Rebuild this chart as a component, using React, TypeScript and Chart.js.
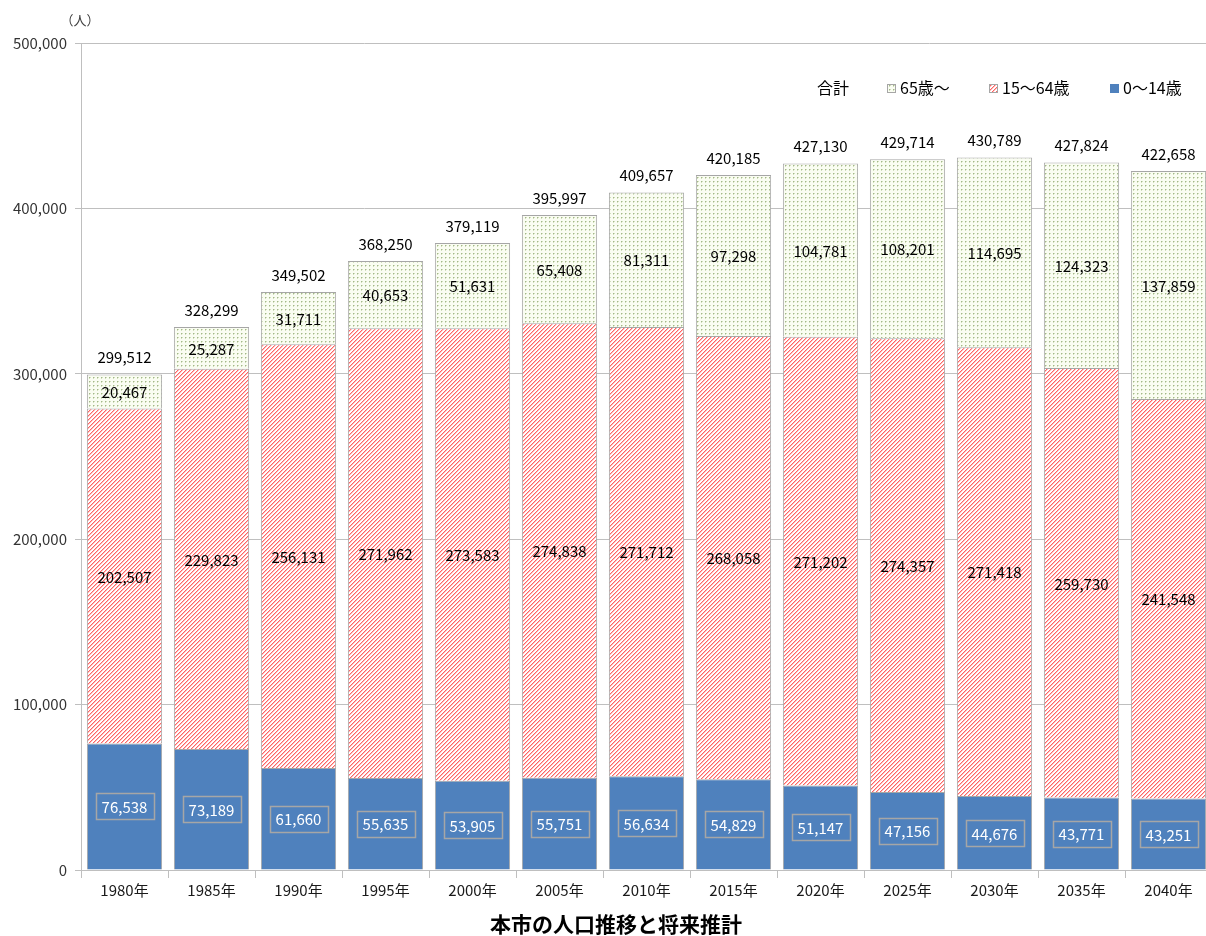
import React, { useEffect, useRef } from "react";
import { Chart, registerables } from "chart.js";

Chart.register(...registerables);

const categories = ["1980年", "1985年", "1990年", "1995年", "2000年", "2005年", "2010年", "2015年", "2020年", "2025年", "2030年", "2035年", "2040年"];
const age0to14 = [76538, 73189, 61660, 55635, 53905, 55751, 56634, 54829, 51147, 47156, 44676, 43771, 43251];
const age15to64 = [202507, 229823, 256131, 271962, 273583, 274838, 271712, 268058, 271202, 274357, 271418, 259730, 241548];
const age65plus = [20467, 25287, 31711, 40653, 51631, 65408, 81311, 97298, 104781, 108201, 114695, 124323, 137859];
const totals = [299512, 328299, 349502, 368250, 379119, 395997, 409657, 420185, 427130, 429714, 430789, 427824, 422658];
const yTicks = [0, 100000, 200000, 300000, 400000, 500000];
const seriesNames = ["0〜14歳", "15〜64歳", "65歳〜"];
const totalName = "合計";
const unitLabel = "（人）";
const chartTitle = "本市の人口推移と将来推計";

const FONT = "'Noto Sans CJK JP', 'Noto Sans', sans-serif";
const fmt = (v: number) => v.toLocaleString("en-US");

function makeStripe(): CanvasPattern | string {
  const c = document.createElement("canvas");
  c.width = 4;
  c.height = 4;
  const g = c.getContext("2d");
  if (!g) return "#f8b0b0";
  g.fillStyle = "#ffffff";
  g.fillRect(0, 0, 4, 4);
  for (let x = 0; x < 4; x++) {
    const y = (3 - x + 4) % 4;
    g.fillStyle = "#ff6464";
    g.fillRect(x, y, 1, 1);
    g.fillStyle = "#ffbcbc";
    g.fillRect(x, (y + 1) % 4, 1, 1);
  }
  return g.createPattern(c, "repeat") || "#f8b0b0";
}

function makeDots(): CanvasPattern | string {
  const c = document.createElement("canvas");
  c.width = 4;
  c.height = 4;
  const g = c.getContext("2d");
  if (!g) return "#eef2e4";
  g.fillStyle = "#fafdf2";
  g.fillRect(0, 0, 4, 4);
  g.fillStyle = "#a3b78a";
  g.fillRect(1, 1, 1, 1);
  g.fillStyle = "#d2dfbd";
  g.fillRect(2, 1, 1, 1);
  g.fillRect(1, 2, 1, 1);
  return g.createPattern(c, "repeat") || "#eef2e4";
}

export default function App() {
  const ref = useRef<HTMLCanvasElement | null>(null);

  useEffect(() => {
    if (!ref.current) return;
    const stripe = makeStripe();
    const dots = makeDots();
    const blue = "#4f81bd";
    const border = "#a6a6a6";
    const fills = [blue, stripe, dots];

    const labelPlugin = {
      id: "labels",
      afterDatasetsDraw(chart: any) {
        const ctx = chart.ctx as CanvasRenderingContext2D;
        ctx.save();
        ctx.font = `15px ${FONT}`;
        ctx.textAlign = "center";
        ctx.textBaseline = "middle";
        chart.data.datasets.forEach((ds: any, di: number) => {
          const meta = chart.getDatasetMeta(di);
          meta.data.forEach((bar: any, i: number) => {
            const v = ds.data[i] as number;
            const cy = (bar.y + bar.base) / 2;
            const text = fmt(v);
            if (di === 0) {
              const w = ctx.measureText(text).width + 12;
              const h = 26;
              ctx.strokeStyle = "#a6a6a6";
              ctx.lineWidth = 1.5;
              ctx.strokeRect(Math.round(bar.x - w / 2) + 0.5, Math.round(cy - h / 2) + 0.5, Math.round(w), h);
              ctx.fillStyle = "#ffffff";
              ctx.fillText(text, bar.x, cy + 1);
            } else {
              ctx.fillStyle = "#000000";
              ctx.fillText(text, bar.x, cy + 1);
            }
          });
        });
        const topMeta = chart.getDatasetMeta(2);
        topMeta.data.forEach((bar: any, i: number) => {
          ctx.fillStyle = "#000000";
          ctx.fillText(fmt(totals[i]), bar.x, bar.y - 17);
        });
        ctx.font = `13px ${FONT}`;
        ctx.fillStyle = "#404040";
        ctx.fillText(unitLabel, 80, 20);
        ctx.font = `bold 21px ${FONT}`;
        ctx.fillStyle = "#000000";
        ctx.fillText(chartTitle, 616, 924);
        ctx.font = `16px ${FONT}`;
        ctx.textAlign = "left";
        ctx.fillStyle = "#000000";
        ctx.fillText(totalName, 817, 88);
        const items = [
          { x: 887, fill: dots, label: seriesNames[2] },
          { x: 989, fill: stripe, label: seriesNames[1] },
          { x: 1110, fill: blue, label: seriesNames[0] },
        ];
        items.forEach((it) => {
          ctx.fillStyle = it.fill as any;
          ctx.fillRect(it.x, 84, 9, 9);
          if (it.fill !== blue) {
            ctx.strokeStyle = "#a6a6a6";
            ctx.lineWidth = 1;
            ctx.strokeRect(it.x + 0.5, 84.5, 8, 8);
          }
          ctx.fillStyle = "#000000";
          ctx.fillText(it.label, it.x + 13, 88);
        });
        ctx.restore();
      },
    };

    const chart = new Chart(ref.current, {
      type: "bar",
      data: {
        labels: categories,
        datasets: [
          { label: seriesNames[0], data: age0to14, backgroundColor: fills[0] as any, borderColor: border, borderWidth: 1, barPercentage: 0.865, categoryPercentage: 1 },
          { label: seriesNames[1], data: age15to64, backgroundColor: fills[1] as any, borderColor: border, borderWidth: 1, barPercentage: 0.865, categoryPercentage: 1 },
          { label: seriesNames[2], data: age65plus, backgroundColor: fills[2] as any, borderColor: border, borderWidth: 1, barPercentage: 0.865, categoryPercentage: 1 },
        ],
      },
      options: {
        responsive: false,
        animation: false,
        events: [],
        layout: { padding: { top: 43, right: 0, bottom: 0, left: 0 } },
        plugins: {
          legend: { display: false },
          tooltip: { enabled: false },
          title: { display: false },
        },
        scales: {
          x: {
            stacked: true,
            grid: { display: true, drawOnChartArea: false, offset: true, tickLength: 8, color: "#bfbfbf" },
            border: { color: "#bfbfbf" },
            ticks: { font: { family: FONT, size: 15 }, color: "#1a1a1a", padding: 3, maxRotation: 0 },
            afterFit: (s: any) => { s.height = 66; },
          },
          y: {
            stacked: true,
            min: 0,
            max: 500000,
            afterBuildTicks: (s: any) => { s.ticks = yTicks.map((v) => ({ value: v })); },
            grid: { color: "#bfbfbf", tickLength: 6 },
            border: { color: "#bfbfbf" },
            ticks: { font: { family: FONT, size: 15 }, color: "#333333", padding: 8, callback: (v: any) => fmt(Number(v)) },
            afterFit: (s: any) => { s.width = 81; },
          },
        },
      },
      plugins: [labelPlugin],
    });
    return () => chart.destroy();
  }, []);

  return (
    <div style={{ position: "absolute", left: 0, top: 0, width: 1206, height: 936, overflow: "hidden", background: "#ffffff" }}>
      <canvas ref={ref} width={1212} height={936} style={{ width: 1212, height: 936, display: "block" }} />
    </div>
  );
}
